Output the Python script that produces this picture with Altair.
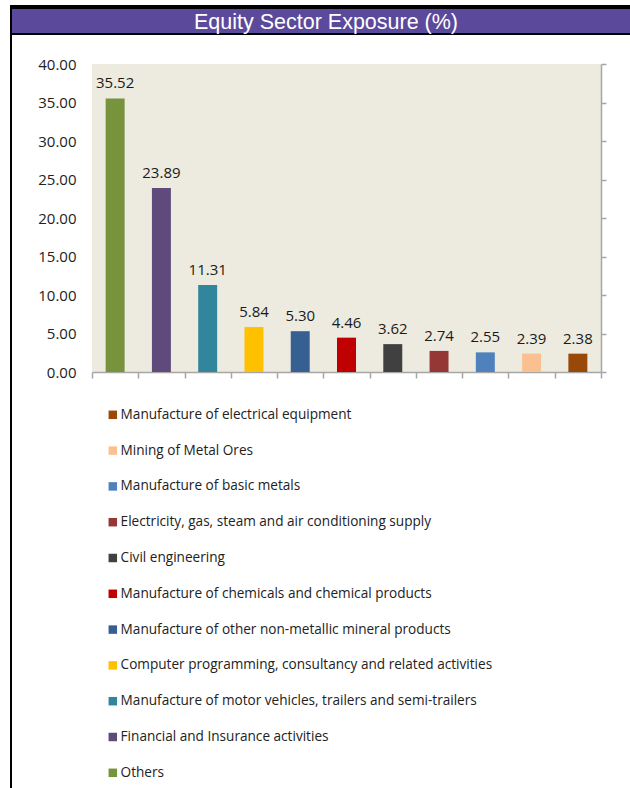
import altair as alt
import pandas as pd

sectors = [
    "Others",
    "Financial and Insurance activities",
    "Manufacture of motor vehicles, trailers and semi-trailers",
    "Computer programming, consultancy and related activities",
    "Manufacture of other non-metallic mineral products",
    "Manufacture of chemicals and chemical products",
    "Civil engineering",
    "Electricity, gas, steam and air conditioning supply",
    "Manufacture of basic metals",
    "Mining of Metal Ores",
    "Manufacture of electrical equipment",
]
values = [35.52, 23.89, 11.31, 5.84, 5.30, 4.46, 3.62, 2.74, 2.55, 2.39, 2.38]
colors = ["#77933C", "#604A7B", "#31859C", "#FFC000", "#376092", "#C00000",
          "#404040", "#953735", "#4F81BD", "#FAC090", "#984807"]
y_ticks = [0, 5, 10, 15, 20, 25, 30, 35, 40]
title_text = "Equity Sector Exposure (%)"

df = pd.DataFrame({"sector": sectors, "value": values})
one = pd.DataFrame({"k": [0]})

W, H = 509, 308
FONT = "Open Sans"
GREY = "#A6A6A6"

x_scale = alt.Scale(paddingInner=0, paddingOuter=0)
y_scale = alt.Scale(domain=[0, 40], nice=False)

bars = alt.Chart(df).mark_bar(width=alt.RelativeBandSize(0.41)).encode(
    x=alt.X("sector:N", sort=sectors, scale=x_scale,
            axis=alt.Axis(title=None, labels=False, domainColor=GREY, tickColor=GREY,
                          tickSize=6, tickBand="extent", domainWidth=1.5, tickWidth=1.5)),
    y=alt.Y("value:Q", scale=y_scale,
            axis=alt.Axis(title=None, values=y_ticks, format=".2f", domain=False, ticks=False,
                          grid=False, labelFont=FONT, labelFontSize=15, labelColor="#222222",
                          labelPadding=16)),
    color=alt.Color("sector:N",
                    scale=alt.Scale(domain=sectors[::-1], range=colors[::-1]),
                    legend=alt.Legend(title=None, orient="none", legendX=14, legendY=344,
                                      direction="vertical", symbolType="square",
                                      symbolSize=72, symbolStrokeWidth=0, symbolOpacity=1,
                                      labelFont=FONT, labelFontSize=13.6, labelColor="#222222",
                                      labelOffset=1, rowPadding=20.8, labelLimit=500)),
)

labels = alt.Chart(df).mark_text(font=FONT, fontSize=15, color="#1a1a1a", dy=-10,
                                 baseline="alphabetic").encode(
    x=alt.X("sector:N", sort=sectors, scale=x_scale, axis=None),
    y=alt.Y("value:Q", scale=y_scale,
            axis=alt.Axis(title=None, orient="right", values=y_ticks, labels=False,
                          domainColor=GREY, tickColor=GREY, tickSize=5, grid=False,
                          domainWidth=1.5, tickWidth=1.5)),
    text=alt.Text("value:Q", format=".2f"),
)

frame_black = alt.Chart(one).mark_rect(color="#000000").encode(
    x=alt.value(-82), x2=alt.value(545), y=alt.value(-59), y2=alt.value(-29))
frame_purple = alt.Chart(one).mark_rect(color="#5B4A9C").encode(
    x=alt.value(-80), x2=alt.value(545), y=alt.value(-55), y2=alt.value(-31))
left_line = alt.Chart(one).mark_rect(color="#000000").encode(
    x=alt.value(-82), x2=alt.value(-80), y=alt.value(-59), y2=alt.value(730))
title = alt.Chart(one).mark_text(text=title_text, font="Liberation Sans", fontSize=21.5,
                                 color="white", align="center", baseline="alphabetic").encode(
    x=alt.value(234), y=alt.value(-35))

chart = alt.layer(frame_black, frame_purple, left_line, title, bars, labels).resolve_axis(
    y="independent", x="independent"
).resolve_scale(y="shared", x="shared").properties(
    width=W, height=H,
    autosize=alt.AutoSizeParams(type="none"),
    padding={"left": 92, "top": 64, "right": 29, "bottom": 416},
    background="white",
).configure_view(fill="#EDEBE0", strokeWidth=0)

chart.save("out.html", embed_options={"renderer": "svg", "actions": False})
